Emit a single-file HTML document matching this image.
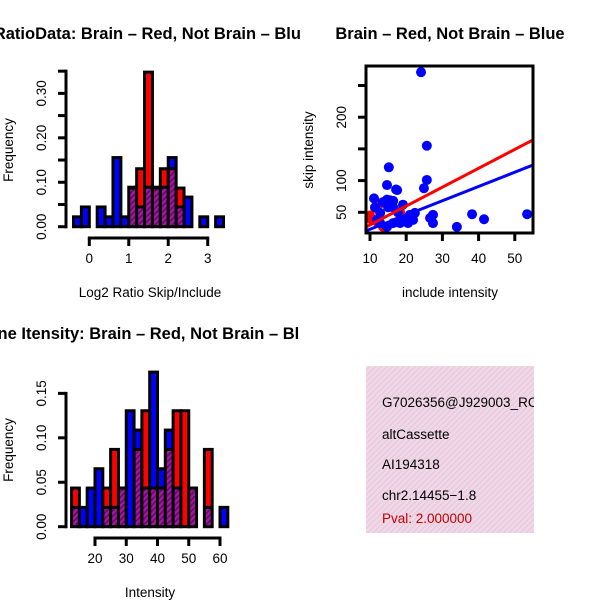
<!DOCTYPE html>
<html><head><meta charset="utf-8"><style>
html,body{margin:0;padding:0;background:#fff;}
svg{display:block;font-family:"Liberation Sans",sans-serif;}
</style></head><body>
<svg id="root" width="600" height="600" viewBox="0 0 600 600" xmlns="http://www.w3.org/2000/svg">
<defs>
<pattern id="hatch" width="4" height="4" patternUnits="userSpaceOnUse" patternTransform="rotate(45)">
<rect width="4" height="4" fill="#9b1b9b"/><rect width="1.5" height="4" fill="#700070"/></pattern>
<pattern id="pinkhatch" width="4" height="4" patternUnits="userSpaceOnUse" patternTransform="rotate(45)">
<rect width="4" height="4" fill="#f6d4ef"/><rect width="1.3" height="4" fill="#dcd2cc"/></pattern>
<clipPath id="clipL"><rect x="0" y="0" width="300" height="600"/></clipPath>
<clipPath id="clipR"><rect x="300" y="0" width="300" height="600"/></clipPath>
<clipPath id="clipBox"><rect x="366" y="366" width="168" height="167"/></clipPath>
</defs>
<g id="h1"></g>
<g id="h2"></g>
<g id="sc"></g>
<g clip-path="url(#clipBox)">
<rect x="366" y="366" width="168" height="167" fill="url(#pinkhatch)"/>
<text x="382" y="407" font-size="13.5">G7026356@J929003_RC</text>
<text x="382" y="439" font-size="13.5">altCassette</text>
<text x="382" y="469" font-size="13.5">AI194318</text>
<text x="382" y="500" font-size="13.5">chr2.14455−1.8</text>
<text x="382" y="523" font-size="13.5" fill="#c00000">Pval: 2.000000</text>
</g>
</svg>
<script>
// ---- Histogram 1 data (Log2 ratio) ----
const h1Start = -0.4;
const h1BinWidth = 0.2;
const h1Blue = [1/45,2/45,0,2/45,1/45,7/45,1/45,4/45,2/45,4/45,4/45,4/45,7/45,2/45,3/45,0,1/45,0,1/45];
const h1Red  = [0,0,0,0,0,0,0,2/23,3/23,8/23,2/23,3/23,3/23,2/23,0,0,0,0,0];
const h1XTicks = [0,1,2,3];
const h1YTicks = [0,0.1,0.2,0.3];
const h1YMinor = [0.05,0.15,0.25,0.35];
// ---- Histogram 2 data (Intensity) ----
const h2Start = 12.5;
const h2BinWidth = 2.5;
const h2Blue = [1,1,2,3,1,1,2,6,5,2,8,3,5,2,0,2,0,1,0,1].map(c=>c/46);
const h2Red  = [1,0,0,0,1,2,1,0,2,3,1,1,2,3,3,1,0,2,0,0].map(c=>c/23);
const h2XTicks = [20,30,40,50,60];
const h2YTicks = [0,0.05,0.1,0.15];
// ---- Scatter data ----
const blueX = [24.1,25.7,15.2,25.7,24.9,14.7,17.2,11.1,14.7,16.4,19.1,17.5,34,38.2,41.5,53.4,27.4,26.6,27.4,20.2,21.9,21,17.7,16.4,14.7,12.8,11.9,11.4,13.6,15.5,16.4,18.3,22.4,20.5,12.8,15];
const blueY = [271,155,121,101,88,93,86,72,70,68,62,85,27,47,39,47,46,41,33,41,38,46,50,33,27,49,38,58,66,69,58,33,49,33,33,58];
const redX = [11.4,12.8,10.5,13.6,17.5,18.3,10,12];
const redY = [57,64,38,27,35,50,45,35];
const fitIntercepts = [0.75,0.2]; // blue, red
const fitSlopes = [2.25,2.98];
const scXTicks = [10,20,30,40,50];
const scYTicks = [50,100,150,200,250];
const scYLabels = ["50","100","","200",""];

const FS=13.5, TFS=16.5;
const NS="http://www.w3.org/2000/svg";
function el(parent,tag,attrs){const e=document.createElementNS(NS,tag);for(const k in attrs)e.setAttribute(k,attrs[k]);parent.appendChild(e);return e;}

function drawHist(g,cfg){
  const {start,bw,blue,red,xs,ys,yMinor,clip,axisY,yAxisX,titleY,titleX,title,xlab,yLabelX,xLblY,xTitleY} = cfg;
  g.setAttribute('clip-path',clip);
  for(let i=0;i<blue.length;i++){
    const b=blue[i], r=red[i];
    const mx=Math.max(b,r), mn=Math.min(b,r);
    if(mx<=0) continue;
    const x0=xs(start+i*bw), x1=xs(start+(i+1)*bw);
    const top=el(g,'rect',{x:x0,y:ys(mx),width:x1-x0,height:ys(0)-ys(mx),fill:b>=r?'#0000ff':'#ff0000'});
    
    
    if(mn>0){
      const p=el(g,'rect',{x:x0,y:ys(mn),width:x1-x0,height:ys(0)-ys(mn),fill:'url(#hatch)'});
      
      
      el(g,'line',{x1:x0,x2:x1,y1:ys(mn),y2:ys(mn),stroke:'#000','stroke-width':3});
    }
    const o=el(g,'rect',{x:x0,y:ys(mx),width:x1-x0,height:ys(0)-ys(mx),fill:'none',stroke:'#000','stroke-width':3});
    
    
  }
  const yt=cfg.yTicks, all=yt.concat(yMinor||[]);
  const top=Math.max(...all);
  el(g,'line',{x1:yAxisX,x2:yAxisX,y1:ys(top)-1.5,y2:ys(0)+1.5,stroke:'#000','stroke-width':3});
  all.forEach(v=>el(g,'line',{x1:yAxisX-8,x2:yAxisX,y1:ys(v),y2:ys(v),stroke:'#000','stroke-width':3}));
  yt.forEach(v=>{const t=el(g,'text',{x:0,y:0,'font-size':FS,'text-anchor':'middle',transform:`translate(${yAxisX-20},${ys(v)}) rotate(-90)`});t.textContent=v.toFixed(2);
    });
  const xt=cfg.xTicks;
  el(g,'line',{x1:xs(xt[0])-1.5,x2:xs(xt[xt.length-1])+1.5,y1:axisY,y2:axisY,stroke:'#000','stroke-width':3});
  xt.forEach(v=>{el(g,'line',{x1:xs(v),x2:xs(v),y1:axisY,y2:axisY+8,stroke:'#000','stroke-width':3});
    const t=el(g,'text',{x:xs(v),y:xLblY,'font-size':FS,'text-anchor':'middle'});t.textContent=v;
    });
  const tt=el(g,'text',{x:titleX,y:titleY,'font-size':TFS,'font-weight':'bold','text-anchor':'middle'});tt.textContent=title;
  
  const xl=el(g,'text',{x:150,y:xTitleY,'font-size':FS,'text-anchor':'middle'});xl.textContent=xlab;
  
  const yl=el(g,'text',{x:0,y:0,'font-size':FS,'text-anchor':'middle',transform:`translate(${yLabelX},${cfg.yMid}) rotate(-90)`});yl.textContent='Frequency';
  
}

drawHist(document.getElementById('h1'),{start:h1Start,bw:h1BinWidth,blue:h1Blue,red:h1Red,
  xs:v=>89.3+v*39.47, ys:v=>226.7-v*444.4, xTicks:h1XTicks, yTicks:h1YTicks, yMinor:h1YMinor,
  clip:'url(#clipL)', axisY:238, yAxisX:66, titleY:39, titleX:152,
  title:'RatioData: Brain – Red, Not Brain – Blue', xlab:'Log2 Ratio Skip/Include',
  yLabelX:13, yMid:150, xLblY:263, xTitleY:297});
drawHist(document.getElementById('h2'),{start:h2Start,bw:h2BinWidth,blue:h2Blue,red:h2Red,
  xs:v=>95+(v-20)*3.125, ys:v=>526.7-v*888.9, xTicks:h2XTicks, yTicks:h2YTicks, yMinor:[],
  clip:'url(#clipL)', axisY:538, yAxisX:66, titleY:339, titleX:147,
  title:'Gene Itensity: Brain – Red, Not Brain – Blue', xlab:'Intensity',
  yLabelX:13, yMid:450, xLblY:563, xTitleY:597});

(function(){
  const g=document.getElementById('sc');
  g.setAttribute('clip-path','url(#clipR)');
  const xs=v=>370+(v-10)*3.62, ys=v=>212.3-(v-50)*0.634;
  const L=366,R=533,T=66,B=233;
  const cp=el(g,'clipPath',{id:'scClip'});
  el(cp,'rect',{x:L,y:T,width:R-L,height:B-T});
  const pts=el(g,'g',{});
  redX.forEach((x,i)=>{const c=el(pts,'circle',{cx:xs(x),cy:ys(redY[i]),r:5,fill:'#ff0000'});
    });
  blueX.forEach((x,i)=>{const c=el(pts,'circle',{cx:xs(x),cy:ys(blueY[i]),r:5,fill:'#0000ff'});
    });
  const lg=el(g,'g',{'clip-path':'url(#scClip)'});
  const xmin=(L-370)/3.62+10, xmax=(R-370)/3.62+10;
  ['#0000ff','#ff0000'].forEach((col,k)=>{
    const a=fitIntercepts[k], b=fitSlopes[k];
    const ln=el(lg,'line',{x1:xs(xmin),y1:ys(a+b*xmin),x2:xs(xmax),y2:ys(a+b*xmax),stroke:col,'stroke-width':3});
    
    
  });
  const box=el(g,'rect',{x:L,y:T,width:R-L,height:B-T,fill:'none',stroke:'#000','stroke-width':3});
  
  scXTicks.forEach(v=>{el(g,'line',{x1:xs(v),x2:xs(v),y1:B,y2:B+8,stroke:'#000','stroke-width':3});
    const t=el(g,'text',{x:xs(v),y:263,'font-size':FS,'text-anchor':'middle'});t.textContent=v;
    });
  scYTicks.forEach((v,i)=>{el(g,'line',{x1:L-8,x2:L,y1:ys(v),y2:ys(v),stroke:'#000','stroke-width':3});
    if(scYLabels[i]){const t=el(g,'text',{x:0,y:0,'font-size':FS,'text-anchor':'middle',transform:`translate(${L-20},${ys(v)}) rotate(-90)`});t.textContent=scYLabels[i];
    }});
  const tt=el(g,'text',{x:450,y:39,'font-size':TFS,'font-weight':'bold','text-anchor':'middle'});tt.textContent='Brain – Red, Not Brain – Blue';
  
  const xl=el(g,'text',{x:450,y:297,'font-size':FS,'text-anchor':'middle'});xl.textContent='include intensity';
  
  const yl=el(g,'text',{x:0,y:0,'font-size':FS,'text-anchor':'middle',transform:`translate(313,150) rotate(-90)`});yl.textContent='skip intensity';
  
})();
</script>
</body></html>
